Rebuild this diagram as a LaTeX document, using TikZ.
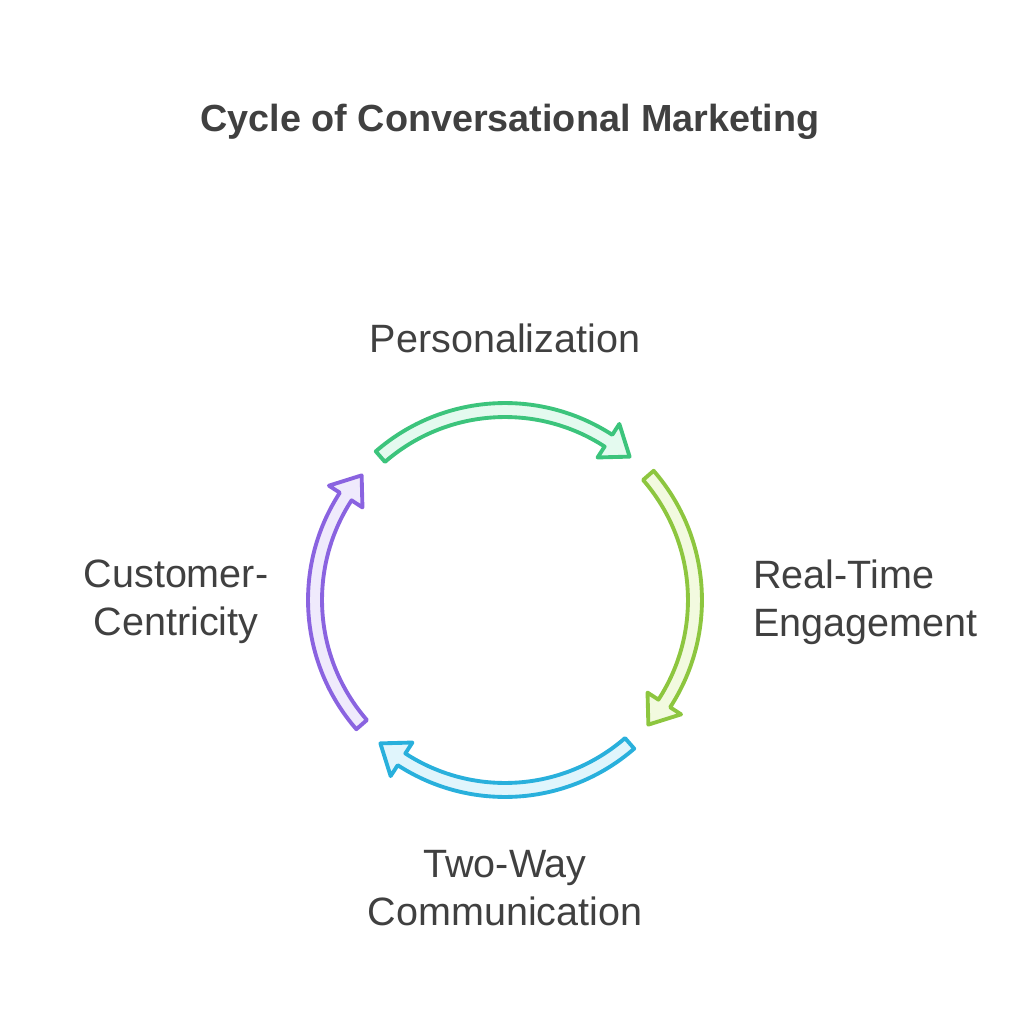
\documentclass[tikz,border=0pt]{standalone}
\usepackage{fontspec}
\setmainfont{Liberation Sans}
\usetikzlibrary{calc}
\definecolor{textGray}{HTML}{404040}
\definecolor{greenLine}{HTML}{3CC47C}
\definecolor{greenFill}{HTML}{E4FAEF}
\definecolor{limeLine}{HTML}{8DC63F}
\definecolor{limeFill}{HTML}{F2FADF}
\definecolor{blueLine}{HTML}{29B0DC}
\definecolor{blueFill}{HTML}{E0F5FC}
\definecolor{purpleLine}{HTML}{8A63E0}
\definecolor{purpleFill}{HTML}{EFEAFC}
\tikzset{
	label/.style={text=textGray, font=\fontsize{22.5}{27.5}\selectfont, align=center},
	cycleArrow/.style={line width=2.2pt, line join=round}
}
% arrow from angle #1 to tip angle #2
\newcommand{\cycleArrow}[4]{%
	\draw[cycleArrow, draw=#3, fill=#4]
		(#1:\radiusOut) arc [start angle=#1, end angle=#2+8, radius=\radiusOut] --
		(#2+8:\radiusHeadOut) -- (#2:\radiusMid) -- (#2+8:\radiusHeadIn) --
		(#2+8:\radiusIn) arc [start angle=#2+8, end angle=#1, radius=\radiusIn] -- cycle;}

\begin{document}
\begin{tikzpicture}[x=0.02cm, y=0.02cm]
	\useasboundingbox (-505,-436) rectangle (531,600);
	\coordinate (centerO) at (0,0);
	\def\radiusOut{3.94cm}
	\def\radiusIn{3.66cm}
	\def\radiusMid{3.8cm}
	\def\radiusHeadOut{4.2cm}
	\def\radiusHeadIn{3.4cm}

	% arrows
	\cycleArrow{131}{49}{greenLine}{greenFill}
	\cycleArrow{41}{-41}{limeLine}{limeFill}
	\cycleArrow{-49}{-131}{blueLine}{blueFill}
	\cycleArrow{221}{139}{purpleLine}{purpleFill}

	% labels
	\node[text=textGray, font=\bfseries\fontsize{21.5}{25}\selectfont] (title) at (5,478) {Cycle of Conversational Marketing};
	\node[label] (personalization) at (0,262) {Personalization};
	\node[label, align=left, anchor=west] (realTime) at (242,-2) {Real-Time\\Engagement};
	\node[label] (twoWay) at (0,-288) {Two-Way\\Communication};
	\node[label] (customer) at (-329,-2) {Customer-\\Centricity};
\end{tikzpicture}
\end{document}
